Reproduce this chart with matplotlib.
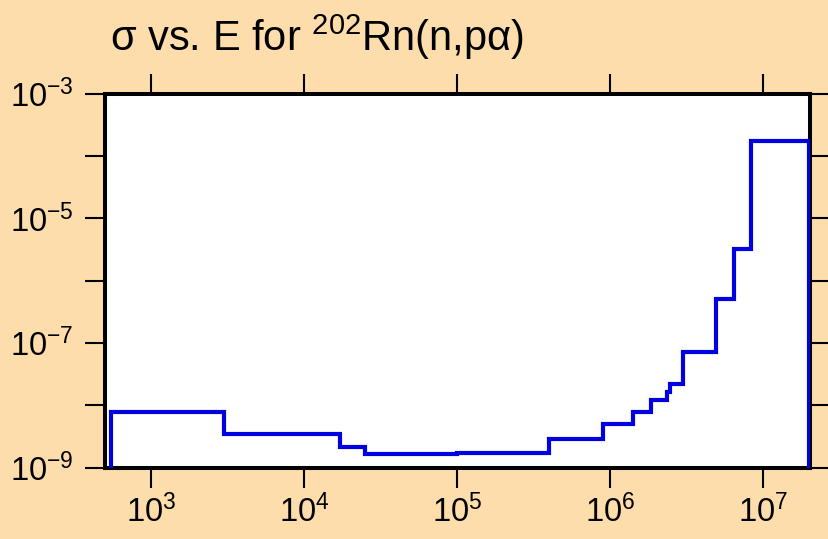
#!/usr/bin/env python3
"""
Group-wise cross section of 202Rn(n,p alpha) plotted as a step histogram
over incident neutron energy, on log-log axes.
"""
import matplotlib
matplotlib.use('Agg')
import matplotlib.pyplot as plt
import numpy as np
from matplotlib.ticker import FixedLocator, FuncFormatter, NullLocator

plt.rcParams.update({
    'font.family': 'Liberation Sans',
    'mathtext.fontset': 'custom',
    'mathtext.rm': 'Liberation Sans',
    'mathtext.it': 'Liberation Sans:italic',
    'mathtext.bf': 'Liberation Sans:bold',
})

BG_COLOR = '#FDDDAB'
LINE_COLOR = '#0000E0'

# Energy group boundaries (eV) and group cross sections (b)
edges = [545, 2980, 1.7e4, 2.5e4, 1.0e5, 4.0e5, 9.0e5, 1.4e6, 1.84e6,
         2.34e6, 2.45e6, 3.0e6, 4.9e6, 6.4e6, 8.3e6, 1.98e7]
sigma = [7.7e-9, 3.5e-9, 2.1e-9, 1.66e-9, 1.74e-9, 2.9e-9, 4.96e-9, 7.9e-9,
         1.22e-8, 1.6e-8, 2.2e-8, 7.1e-8, 5.0e-7, 3.2e-6, 1.72e-4]

x_ticks = [1e3, 1e4, 1e5, 1e6, 1e7]
y_ticks = [1e-9, 1e-8, 1e-7, 1e-6, 1e-5, 1e-4, 1e-3]
y_labeled = [-9, -7, -5, -3]


def decade_label(v, pos):
    e = int(round(np.log10(v)))
    return r'$\mathregular{10^{%d}}$' % e


def odd_decade_label(v, pos):
    # only every other decade gets a label on the y axis
    e = int(round(np.log10(v)))
    if e not in y_labeled:
        return ''
    return r'$\mathregular{10^{%d}}$' % e


fig = plt.figure(figsize=(8.29, 5.39), dpi=100, facecolor=BG_COLOR)
ax = fig.add_axes([105 / 829, 1 - 467.5 / 539, (810 - 105) / 829, (467.5 - 93.5) / 539])
ax.set_facecolor('white')

ax.stairs(sigma, edges, baseline=1e-9, color=LINE_COLOR, linewidth=3.0, zorder=3)

ax.set_xscale('log')
ax.set_yscale('log')
ax.set_xlim(498, 2.02e7)
ax.set_ylim(1e-9, 1e-3)

ax.xaxis.set_major_locator(FixedLocator(x_ticks))
ax.xaxis.set_minor_locator(NullLocator())
ax.yaxis.set_major_locator(FixedLocator(y_ticks))
ax.yaxis.set_minor_locator(NullLocator())
ax.xaxis.set_major_formatter(FuncFormatter(decade_label))
ax.yaxis.set_major_formatter(FuncFormatter(odd_decade_label))

ax.tick_params(which='major', direction='out', length=14.5, width=1.5,
               labelsize=23.5, colors='black',
               top=True, right=True, labeltop=False, labelright=False)
ax.tick_params(axis='x', pad=5)
ax.tick_params(axis='y', pad=8)

for spine in ax.spines.values():
    spine.set_linewidth(2.9)
    spine.set_color('black')

fig.text(110 / 829, 1 - 51 / 539, r'σ vs. E for $^{\mathregular{202}}$Rn(n,pα)',
         fontsize=30, ha='left', va='baseline', color='black')

fig.savefig('out.png', dpi=100, facecolor=BG_COLOR)
